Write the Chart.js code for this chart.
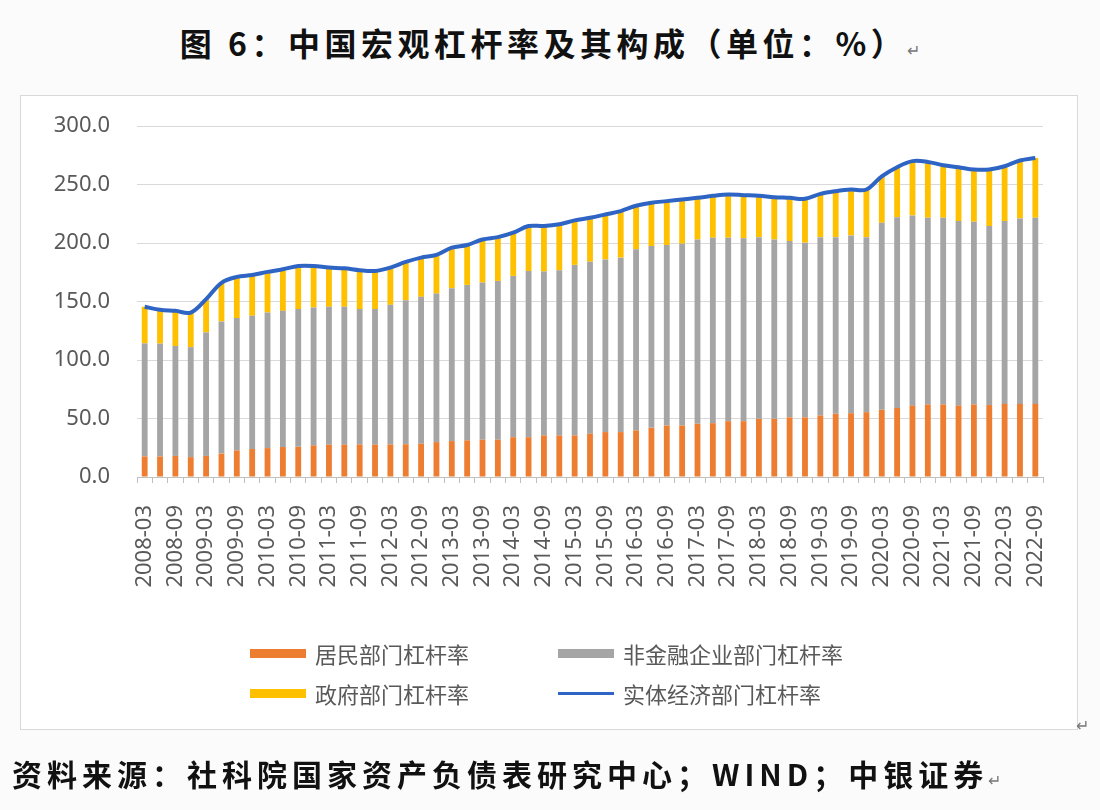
<!DOCTYPE html>
<html lang="zh">
<head>
    <meta charset="UTF-8">
    <title>中国宏观杠杆率及其构成</title>
    <script src="https://cdn.jsdelivr.net/npm/chart.js"></script>
    <style>
        body {
            margin: 0;
            width: 1100px;
            height: 810px;
            position: relative;
            overflow: hidden;
            background: #fbfbfc;
            font-family: "Noto Sans CJK SC", sans-serif;
        }
        .title {
            position: absolute;
            top: 19px;
            left: 0;
            width: 1100px;
            text-align: center;
            font-size: 32px;
            font-weight: bold;
            color: #111;
            letter-spacing: 4.5px;
        }
        .frame {
            position: absolute;
            left: 20px;
            top: 95px;
            width: 1056px;
            height: 633px;
            border: 1px solid #d9d9d9;
            background: #fff;
        }
        #wrap {
            position: absolute;
            left: 0;
            top: 0;
            width: 1100px;
            height: 810px;
        }
        .lg {
            position: absolute;
            display: flex;
            align-items: center;
            font-size: 22px;
            color: #595959;
        }
        .sw {
            width: 56px;
            height: 9px;
            margin-right: 9px;
        }
        .mark {
            color: #777;
            font-size: 16px;
            font-weight: normal;
            letter-spacing: 0;
        }
        .source {
            position: absolute;
            left: 12px;
            top: 751px;
            font-size: 30px;
            font-weight: bold;
            color: #111;
            letter-spacing: 5px;
        }
    </style>
</head>
<body>
    <div class="title">图 6：中国宏观杠杆率及其构成（单位：%）<span class="mark">↵</span></div>
    <div class="frame"></div>
    <div id="wrap"><canvas id="myChart" width="1100" height="810"></canvas></div>

    <div class="lg" style="left:250px; top:637px;"><span class="sw" style="background:#ED7D31"></span>居民部门杠杆率</div>
    <div class="lg" style="left:558px; top:637px;"><span class="sw" style="background:#A5A5A5"></span>非金融企业部门杠杆率</div>
    <div class="lg" style="left:250px; top:677px;"><span class="sw" style="background:#FFC000"></span>政府部门杠杆率</div>
    <div class="lg" style="left:558px; top:677px;"><span class="sw" style="background:#2E64C4; height:3px"></span>实体经济部门杠杆率</div>
    <div class="mark" style="position:absolute; left:1076px; top:712px;">↵</div>

    <div class="source">资料来源：社科院国家资产负债表研究中心；WIND；中银证券<span class="mark">↵</span></div>

    <script>
        // 季度
        const quarters = [
            '2008-03', '2008-06', '2008-09', '2008-12',
            '2009-03', '2009-06', '2009-09', '2009-12',
            '2010-03', '2010-06', '2010-09', '2010-12',
            '2011-03', '2011-06', '2011-09', '2011-12',
            '2012-03', '2012-06', '2012-09', '2012-12',
            '2013-03', '2013-06', '2013-09', '2013-12',
            '2014-03', '2014-06', '2014-09', '2014-12',
            '2015-03', '2015-06', '2015-09', '2015-12',
            '2016-03', '2016-06', '2016-09', '2016-12',
            '2017-03', '2017-06', '2017-09', '2017-12',
            '2018-03', '2018-06', '2018-09', '2018-12',
            '2019-03', '2019-06', '2019-09', '2019-12',
            '2020-03', '2020-06', '2020-09', '2020-12',
            '2021-03', '2021-06', '2021-09', '2021-12',
            '2022-03', '2022-06', '2022-09'
        ];

        // 居民部门杠杆率
        const household = [
            17.6, 17.6, 18.0, 17.0, 18.0, 20.0, 22.7, 23.9, 24.7, 25.6, 25.8, 27.0,
            27.6, 27.6, 27.8, 27.6, 27.8, 28.0, 28.4, 29.8, 30.7, 31.3, 31.8, 31.8,
            34.0, 34.0, 35.5, 35.5, 35.5, 37.0, 38.4, 38.4, 39.8, 42.0, 44.0, 44.0,
            45.5, 46.0, 47.7, 47.7, 49.7, 49.7, 51.0, 51.0, 52.6, 54.0, 54.5, 55.4,
            57.4, 59.0, 61.0, 62.0, 62.0, 61.0, 62.0, 61.5, 62.5, 62.5, 62.5
        ];

        // 非金融企业部门杠杆率
        const corporate = [
            96.6, 96.4, 94.0, 94.0, 105.6, 113.0, 113.1, 113.9, 115.9, 116.4, 117.7, 117.9,
            117.9, 117.9, 115.7, 115.9, 119.4, 123.1, 125.6, 127.0, 130.7, 132.9, 134.4, 135.8,
            137.9, 142.1, 140.1, 141.2, 145.8, 147.0, 147.6, 149.1, 154.8, 155.4, 154.3, 155.4,
            157.5, 158.5, 156.8, 156.3, 155.3, 153.3, 150.7, 149.3, 152.4, 151.0, 152.0, 149.6,
            159.9, 163.0, 162.6, 159.6, 159.6, 157.7, 156.2, 153.0, 156.2, 158.5, 159.1
        ];

        // 政府部门杠杆率
        const government = [
            31.3, 29.0, 30.0, 29.5, 28.4, 33.0, 35.2, 34.9, 34.7, 35.6, 36.9, 35.5,
            33.5, 32.9, 33.2, 32.6, 31.8, 32.7, 33.5, 33.0, 34.6, 34.1, 36.8, 37.4,
            36.9, 38.4, 38.9, 39.3, 38.0, 37.6, 38.4, 39.8, 37.2, 37.0, 37.5, 37.8,
            35.6, 35.8, 37.0, 36.9, 35.3, 36.2, 36.9, 37.5, 37.0, 39.3, 39.2, 40.7,
            39.7, 42.8, 46.4, 47.7, 44.9, 46.1, 44.6, 48.3, 46.9, 49.5, 51.1
        ];

        // 实体经济部门杠杆率
        const total = [
            145.5, 143.0, 142.0, 140.5, 152.0, 166.0, 171.0, 172.7, 175.3, 177.6, 180.4, 180.4,
            179.0, 178.4, 176.7, 176.1, 179.0, 183.8, 187.5, 189.8, 196.0, 198.3, 203.0, 205.0,
            208.8, 214.5, 214.5, 216.0, 219.3, 221.6, 224.4, 227.3, 231.8, 234.4, 235.8, 237.2,
            238.6, 240.3, 241.5, 240.9, 240.3, 239.2, 238.6, 237.8, 242.0, 244.3, 245.7, 245.7,
            257.0, 264.8, 270.0, 269.3, 266.5, 264.8, 262.8, 262.8, 265.6, 270.5, 272.7
        ];

        const yTicks = [0, 50, 100, 150, 200, 250, 300];

        const ctx = document.getElementById('myChart').getContext('2d');
        const chart = new Chart(ctx, {
            type: 'bar',
            data: {
                labels: quarters,
                datasets: [
                    {
                        type: 'line',
                        label: '实体经济部门杠杆率',
                        data: total,
                        stack: 'total',
                        borderColor: '#2E64C4',
                        borderWidth: 4,
                        pointRadius: 0,
                        tension: 0.35,
                        fill: false,
                        order: 0
                    },
                    { label: '居民部门杠杆率', data: household, backgroundColor: '#ED7D31', stack: 'bars', order: 1 },
                    { label: '非金融企业部门杠杆率', data: corporate, backgroundColor: '#A5A5A5', stack: 'bars', order: 1 },
                    { label: '政府部门杠杆率', data: government, backgroundColor: '#FFC000', stack: 'bars', order: 1 }
                ]
            },
            options: {
                responsive: false,
                animation: false,
                barPercentage: 0.38,
                categoryPercentage: 1,
                layout: {
                    padding: { left: 20, right: 57, top: 126, bottom: 203 }
                },
                plugins: {
                    legend: { display: false },
                    tooltip: { enabled: false }
                },
                scales: {
                    x: {
                        stacked: true,
                        afterFit: (scale) => { scale.height = 130; },
                        grid: {
                            drawOnChartArea: false,
                            drawTicks: true,
                            tickLength: 6,
                            color: '#bfbfbf'
                        },
                        border: { color: '#bfbfbf' },
                        ticks: {
                            autoSkip: false,
                            minRotation: 90,
                            maxRotation: 90,
                            padding: 22,
                            color: '#595959',
                            font: { family: 'Noto Sans', size: 22 },
                            callback: function (val, i) {
                                return i % 2 === 0 ? quarters[i] : '';
                            }
                        }
                    },
                    y: {
                        stacked: true,
                        min: 0,
                        max: 300,
                        afterFit: (scale) => { scale.width = 117; },
                        afterBuildTicks: (scale) => {
                            scale.ticks = yTicks.map(v => ({ value: v }));
                        },
                        grid: {
                            color: '#d9d9d9',
                            drawTicks: false
                        },
                        border: { display: false },
                        ticks: {
                            padding: 27,
                            color: '#595959',
                            font: { family: 'Noto Sans', size: 22 },
                            callback: (v) => v.toFixed(1)
                        }
                    }
                }
            }
        });
    </script>
</body>
</html>
